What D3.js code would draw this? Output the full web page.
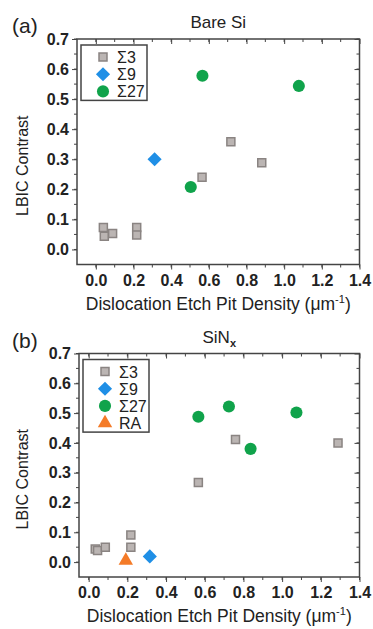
<!DOCTYPE html>
<html>
<head>
<meta charset="utf-8">
<script src="https://cdn.jsdelivr.net/npm/d3@7"></script>
<style>
  body { margin: 0; background: #fff; }
  svg text { font-family: "Liberation Sans", Arial, sans-serif; fill: #222; }
</style>
</head>
<body>
<svg id="chart" width="373" height="629"></svg>
<script>
// values, [x, y]
var aSigma3 = [[0.04, 0.073], [0.045, 0.044], [0.089, 0.053], [0.217, 0.073], [0.217, 0.048],
               [0.564, 0.24], [0.717, 0.358], [0.881, 0.288]];
var aSigma9 = [[0.312, 0.30]];
var aSigma27 = [[0.504, 0.208], [0.566, 0.578], [1.078, 0.544]];

var bSigma3 = [[0.034, 0.044], [0.046, 0.039], [0.086, 0.05], [0.218, 0.091], [0.218, 0.05],
               [0.567, 0.267], [0.759, 0.411], [1.289, 0.40]];
var bSigma9 = [[0.316, 0.019]];
var bSigma27 = [[0.567, 0.488], [0.725, 0.522], [0.837, 0.38], [1.074, 0.502]];
var bRA = [[0.192, 0.005]];

var xTicks = [0, 0.2, 0.4, 0.6, 0.8, 1.0, 1.2, 1.4];
var yTicks = [0, 0.1, 0.2, 0.3, 0.4, 0.5, 0.6, 0.7];

var svg = d3.select("#chart");

var AXIS = "#444";

var styles = {
  s3:  { label: "\u03A33",  shape: d3.symbolSquare,   size: 64,  rot: 0,  fill: "#bbb5b3", stroke: "#8a8482" },
  s9:  { label: "\u03A39",  shape: d3.symbolSquare,   size: 100, rot: 45, fill: "#1f8fe6", stroke: "none" },
  s27: { label: "\u03A327", shape: d3.symbolCircle,   size: 115, rot: 0,  fill: "#10a34b", stroke: "none" },
  ra:  { label: "RA",       shape: d3.symbolTriangle, size: 90,  rot: 0,  fill: "#f47b28", stroke: "none" }
};

function drawPanel(cfg) {
  var x = d3.scaleLinear().domain(cfg.xDomain).range([cfg.left, cfg.right]);
  var y = d3.scaleLinear().domain([-0.05, 0.7]).range([cfg.bottom, cfg.top]);
  var g = svg.append("g");

  var xMinor = d3.range(0, 1.41, 0.1).filter(function(v) { return x(v) >= cfg.left - 0.5; });
  var yMinor = d3.range(0, 0.701, 0.05);

  // frame
  g.append("rect")
    .attr("x", cfg.left).attr("y", cfg.top)
    .attr("width", cfg.right - cfg.left).attr("height", cfg.bottom - cfg.top)
    .attr("fill", "none").attr("stroke", AXIS).attr("stroke-width", 1.5);

  // bottom axis, outward ticks
  var bx = g.append("g").attr("transform", "translate(0," + cfg.bottom + ")")
    .call(d3.axisBottom(x).tickValues(xTicks).tickFormat(d3.format(".1f")).tickSize(5).tickPadding(5));
  bx.append("g").selectAll("line").data(xMinor).enter().append("line")
    .attr("x1", function(d) { return x(d); }).attr("x2", function(d) { return x(d); })
    .attr("y1", 0).attr("y2", 3).attr("stroke", AXIS);

  // top axis, inward ticks, no labels
  var tx = g.append("g").attr("transform", "translate(0," + cfg.top + ")")
    .call(d3.axisBottom(x).tickValues(xTicks).tickFormat("").tickSize(5));
  tx.append("g").selectAll("line").data(xMinor).enter().append("line")
    .attr("x1", function(d) { return x(d); }).attr("x2", function(d) { return x(d); })
    .attr("y1", 0).attr("y2", 3).attr("stroke", AXIS);

  // left axis, outward ticks
  var ly = g.append("g").attr("transform", "translate(" + cfg.left + ",0)")
    .call(d3.axisLeft(y).tickValues(yTicks).tickFormat(d3.format(".1f")).tickSize(5).tickPadding(3));
  ly.append("g").selectAll("line").data(yMinor).enter().append("line")
    .attr("y1", function(d) { return y(d); }).attr("y2", function(d) { return y(d); })
    .attr("x1", 0).attr("x2", -3).attr("stroke", AXIS);

  // right axis, inward ticks
  var ry = g.append("g").attr("transform", "translate(" + cfg.right + ",0)")
    .call(d3.axisLeft(y).tickValues(yTicks).tickFormat("").tickSize(5));
  ry.append("g").selectAll("line").data(yMinor).enter().append("line")
    .attr("y1", function(d) { return y(d); }).attr("y2", function(d) { return y(d); })
    .attr("x1", 0).attr("x2", -3).attr("stroke", AXIS);

  g.selectAll(".domain").remove();
  g.selectAll(".tick line").attr("stroke", AXIS).attr("stroke-width", 1);
  g.selectAll(".tick text").attr("font-size", 16).attr("font-weight", "bold")
    .attr("fill", "#222").style("font-family", "'Liberation Sans', Arial, sans-serif");

  function marker(sel, st) {
    sel.attr("d", d3.symbol().type(st.shape).size(st.size))
      .attr("fill", st.fill).attr("stroke", st.stroke).attr("stroke-width", 1.5);
  }

  // points
  cfg.series.forEach(function(s) {
    var st = styles[s.key];
    g.append("g").selectAll("path").data(s.data).enter().append("path")
      .call(marker, st)
      .attr("transform", function(d) { return "translate(" + x(d[0]) + "," + y(d[1]) + ") rotate(" + st.rot + ")"; });
  });

  // legend
  var lg = g.append("g");
  var rowH = 17.2;
  lg.append("rect")
    .attr("x", cfg.left + 4).attr("y", cfg.top + 6)
    .attr("width", 66).attr("height", 21 + rowH * (cfg.series.length - 1))
    .attr("fill", "#fff").attr("stroke", AXIS).attr("stroke-width", 1.5);
  cfg.series.forEach(function(s, i) {
    var st = styles[s.key];
    var cy = cfg.top + 18 + i * rowH;
    lg.append("path").call(marker, st)
      .attr("transform", "translate(" + (cfg.left + 26) + "," + cy + ") rotate(" + st.rot + ")");
    lg.append("text")
      .attr("x", cfg.left + 40).attr("y", cy + 6)
      .attr("font-size", 16).text(st.label);
  });

  // labels
  svg.append("text").attr("x", 12).attr("y", cfg.top - 6)
    .attr("font-size", 21).text(cfg.tag);

  var title = svg.append("text").attr("x", (cfg.left + cfg.right) / 2).attr("y", cfg.top - 11)
    .attr("text-anchor", "middle").attr("font-size", 17);
  title.append("tspan").text(cfg.title);
  if (cfg.titleSub) {
    title.append("tspan").attr("font-size", 11).attr("font-weight", "bold").attr("dy", 4).text(cfg.titleSub);
  }

  svg.append("text")
    .attr("transform", "translate(28," + ((cfg.top + cfg.bottom) / 2 + 14) + ") rotate(-90)")
    .attr("text-anchor", "middle").attr("font-size", 16).text("LBIC Contrast");

  var xt = svg.append("text").attr("x", (cfg.left + cfg.right) / 2).attr("y", cfg.bottom + 45)
    .attr("text-anchor", "middle").attr("font-size", 17.5);
  xt.append("tspan").text("Dislocation Etch Pit Density (\u03BCm");
  xt.append("tspan").attr("font-size", 11).attr("dy", -7).text("-1");
  xt.append("tspan").attr("dy", 7).text(")");
}

drawPanel({
  tag: "(a)", title: "Bare Si",
  left: 77, right: 359.5, top: 39, bottom: 264.5,
  xDomain: [-0.1, 1.4],
  series: [{ key: "s3", data: aSigma3 }, { key: "s9", data: aSigma9 }, { key: "s27", data: aSigma27 }]
});

drawPanel({
  tag: "(b)", title: "SiN", titleSub: "x",
  left: 79, right: 359.5, top: 353.5, bottom: 577,
  xDomain: [-0.05, 1.4],
  series: [{ key: "s3", data: bSigma3 }, { key: "s9", data: bSigma9 }, { key: "s27", data: bSigma27 }, { key: "ra", data: bRA }]
});
</script>
</body>
</html>
